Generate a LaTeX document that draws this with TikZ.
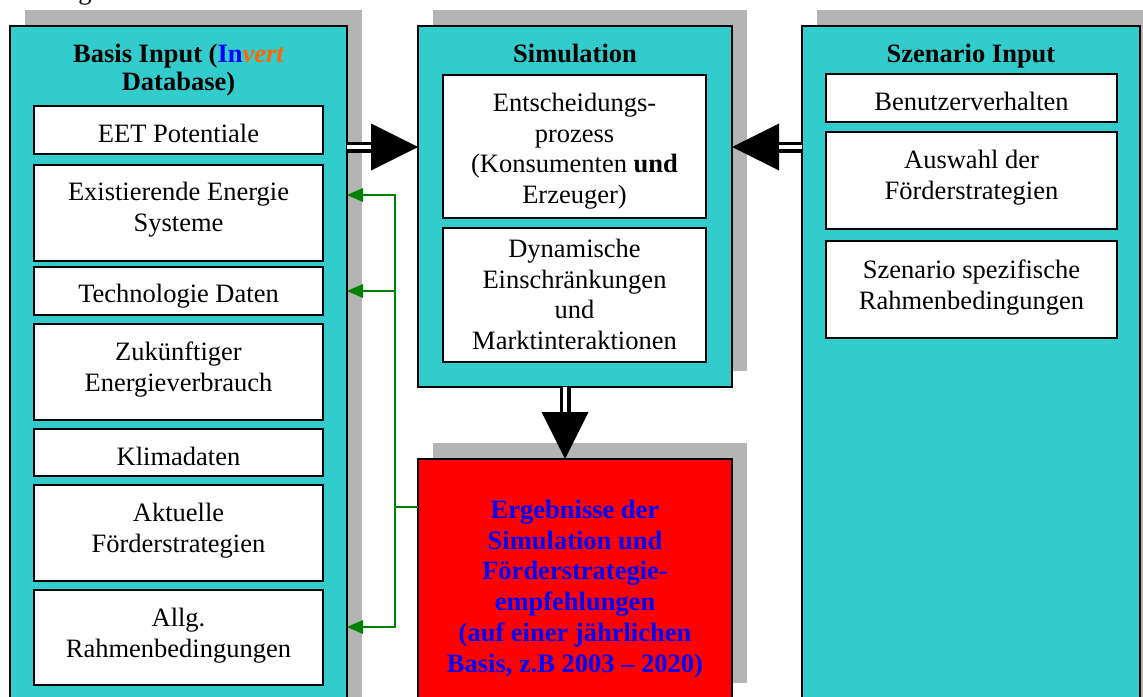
\documentclass[tikz,border=0pt]{standalone}
\usepackage{fontspec}
\setmainfont{Liberation Serif}
\usetikzlibrary{arrows.meta,shadows}
\definecolor{teal1}{HTML}{33CCCC}
\definecolor{shade}{HTML}{B4B4B4}
\definecolor{orng}{HTML}{FF6600}
\definecolor{dgreen}{HTML}{008000}
\definecolor{rblue}{HTML}{0000FF}
\newcommand\fstrut{\rule{0pt}{20pt}}
\newcommand\mkbox[7]{%
  \node[inbox, minimum width={#4pt-#2pt}, minimum height={#5pt-#3pt}] (#1) at (#2,#3) {};
  \node[txt] (#1t) at (#1.north |- 0,#6) {\fstrut#7};
}
\begin{document}
\begin{tikzpicture}[x=1pt,y=-1pt,
  panel/.style={draw=black, line width=2.5pt, fill=teal1, inner sep=0pt, outer sep=0pt, anchor=north west,
    general shadow={fill=shade, shadow xshift=15pt, shadow yshift=16pt}},
  inbox/.style={draw=black, line width=2pt, fill=white, inner sep=0pt, outer sep=0pt, anchor=north west},
  txt/.style={font=\fontsize{26.5}{30.8}\selectfont, align=center, inner sep=0pt, anchor=north},
  bigarrow/.style={-{Triangle[length=47pt,width=47pt,line width=0pt]}, line width=11pt},
  shaftgap/.style={white, line width=4pt, shorten >=47pt},
  gline/.style={dgreen, line width=1.5pt},
  garrow/.style={gline, -{Triangle[length=16pt,width=14pt,line width=0pt]}}
]
\useasboundingbox (0,0) rectangle (1143,696);
\fill[white] (0,0) rectangle (1143,696);

% partly visible text above the picture
\node[font=\fontsize{26.5}{30.8}\selectfont, inner sep=0pt, anchor=base] (topg) at (85,-1) {g};

% panels
\node[panel, minimum width=337pt, minimum height=720pt] (lp) at (10,26) {};
\node[panel, minimum width=314pt, minimum height=361pt] (mp) at (418,26) {};
\node[panel, minimum width=338pt, minimum height=720pt] (rp) at (802,26) {};
\node[panel, fill=red, minimum width=314pt, minimum height=240pt] (rd) at (418,459) {};

% titles
\node[txt, font=\bfseries\fontsize{26.5}{28.3}\selectfont] (lpt) at (lp.north |- 0,42)
  {\fstrut Basis Input (\textcolor{rblue}{In}\textcolor{orng}{\itshape vert}\\Database)};
\node[txt, font=\bfseries\fontsize{26.5}{30.8}\selectfont] (mpt) at (mp.north |- 0,42) {\fstrut Simulation};
\node[txt, font=\bfseries\fontsize{26.5}{30.8}\selectfont] (rpt) at (rp.north |- 0,42) {\fstrut Szenario Input};

% left boxes
\mkbox{eet}{34}{106}{323}{154}{122}{EET Potentiale}
\mkbox{exi}{34}{165}{323}{261}{180}{Existierende Energie\\Systeme}
\mkbox{tec}{34}{267}{323}{315}{282}{Technologie Daten}
\mkbox{zuk}{34}{324}{323}{420}{340}{Zukünftiger\\Energieverbrauch}
\mkbox{kli}{34}{429}{323}{476}{445}{Klimadaten}
\mkbox{akt}{34}{485}{323}{581}{501}{Aktuelle\\Förderstrategien}
\mkbox{alg}{34}{590}{323}{685}{606}{Allg.\\Rahmenbedingungen}

% middle boxes
\mkbox{ent}{443}{75}{706}{218}{91}{Entscheidungs-\\prozess\\(Konsumenten \textbf{und}\\Erzeuger)}
\mkbox{dyn}{443}{228}{706}{362}{237}{Dynamische\\Einschränkungen\\und\\Marktinteraktionen}

% right boxes
\mkbox{ben}{826}{74}{1117}{122}{90}{Benutzerverhalten}
\mkbox{aus}{826}{132}{1117}{229}{148}{Auswahl der\\Förderstrategien}
\mkbox{sze}{826}{241}{1117}{338}{258}{Szenario spezifische\\Rahmenbedingungen}

% result text
\node[txt, font=\bfseries\fontsize{26.5}{30.8}\selectfont, text=rblue] (rdt) at (rd.north |- 0,498)
  {\fstrut Ergebnisse der\\Simulation und\\Förderstrategie-\\empfehlungen\\(auf einer jährlichen\\Basis, z.B 2003 -- 2020)};

% big double arrows
\draw[bigarrow] (lp.east |- 0,147) -- (mp.west |- 0,147);
\draw[shaftgap] (lp.east |- 0,147) -- (mp.west |- 0,147);
\draw[bigarrow] (rp.west |- 0,147) -- (mp.east |- 0,147);
\draw[shaftgap] (rp.west |- 0,147) -- (mp.east |- 0,147);
\draw[bigarrow] (mp.south -| 565,0) -- (rd.north -| 565,0);
\draw[shaftgap] (mp.south -| 565,0) -- (rd.north -| 565,0);

% green feedback connectors
\coordinate (gj) at (395,507);
\draw[gline] (rd.west |- gj) -- (gj);
\draw[garrow] (gj) |- (lp.east |- 0,195);
\draw[garrow] (gj) |- (lp.east |- 0,291);
\draw[garrow] (gj) |- (lp.east |- 0,627);
\end{tikzpicture}
\end{document}
